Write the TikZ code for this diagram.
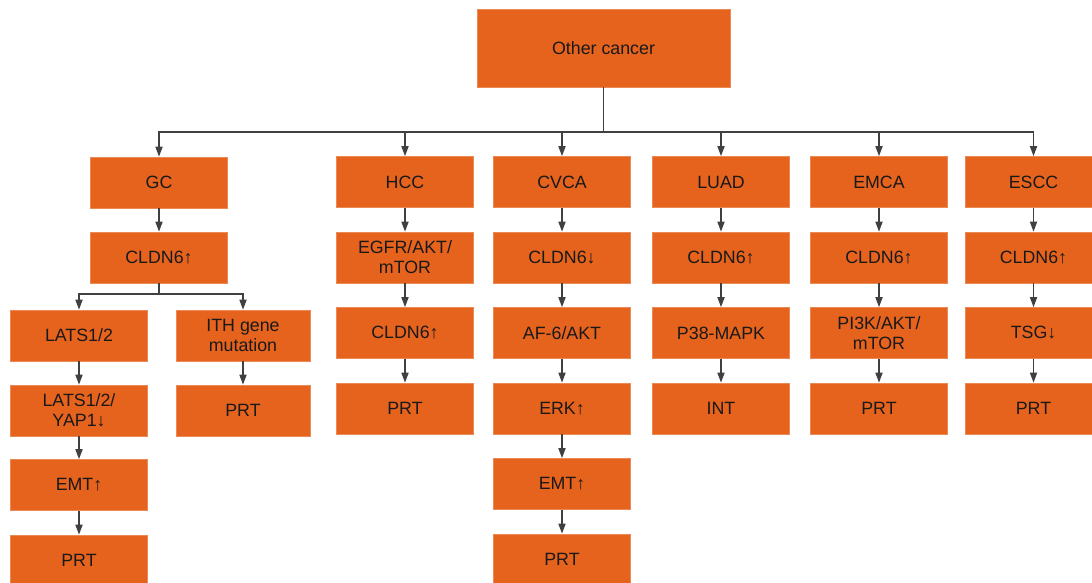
\documentclass[tikz,border=0pt]{standalone}
\usepackage{fontspec}
\setmainfont{Liberation Sans}
\usetikzlibrary{arrows.meta}
\definecolor{boxorange}{RGB}{230,99,30}
\begin{document}
\begin{tikzpicture}[x=1pt,y=-1pt,
    box/.style={draw=boxorange!75!white, line width=0.6pt, fill=boxorange,
      minimum width=137pt, minimum height=51pt, inner sep=1pt, align=center,
      font=\fontsize{17.8}{20}\selectfont, text=black!90},
    link/.style={draw=black!75, line width=1.6pt, -{Triangle[length=10pt,width=7pt]}}]
  \clip (0,0) rectangle (1092,582);
  \node[box, minimum width=253pt, minimum height=78pt] (other) at (603.5,48) {Other cancer};
  % GC
  \node[box] (gc) at (159,182.5) {GC};
  \node[box] (gcCldn) at (159,257.5) {CLDN6↑};
  \node[box] (lats) at (79,335.5) {LATS1/2};
  \node[box, minimum width=134pt] (ith) at (243,335.5) {ITH gene\\mutation};
  \node[box] (yap) at (79,410.5) {LATS1/2/\\YAP1↓};
  \node[box, minimum width=134pt] (ithPrt) at (243,410.5) {PRT};
  \node[box] (gcEmt) at (79,485) {EMT↑};
  \node[box] (gcPrt) at (79,560.5) {PRT};
  % HCC
  \node[box] (hcc) at (405,182) {HCC};
  \node[box] (egfr) at (405,257.5) {EGFR/AKT/\\mTOR};
  \node[box] (hccCldn) at (405,333) {CLDN6↑};
  \node[box] (hccPrt) at (405,408.5) {PRT};
  % CVCA
  \node[box] (cvca) at (562,182) {CVCA};
  \node[box] (cvcaCldn) at (562,257.5) {CLDN6↓};
  \node[box] (af) at (562,333) {AF-6/AKT};
  \node[box] (erk) at (562,408.5) {ERK↑};
  \node[box] (cvcaEmt) at (562,484) {EMT↑};
  \node[box] (cvcaPrt) at (562,559.5) {PRT};
  % LUAD
  \node[box] (luad) at (721,182) {LUAD};
  \node[box] (luadCldn) at (721,257.5) {CLDN6↑};
  \node[box] (p38) at (721,333) {P38-MAPK};
  \node[box] (luadInt) at (721,408.5) {INT};
  % EMCA
  \node[box] (emca) at (879,182) {EMCA};
  \node[box] (emcaCldn) at (879,257.5) {CLDN6↑};
  \node[box] (pi3k) at (879,333) {PI3K/AKT/\\mTOR};
  \node[box] (emcaPrt) at (879,408.5) {PRT};
  % ESCC
  \node[box] (escc) at (1033.5,182) {ESCC};
  \node[box] (esccCldn) at (1033.5,257.5) {CLDN6↑};
  \node[box] (tsg) at (1033.5,333) {TSG↓};
  \node[box] (esccPrt) at (1033.5,408.5) {PRT};

  \coordinate (bus) at (603.5,132);
  \coordinate (gcBus) at (159,294);
  \begin{scope}[link]
    \draw (other.south) -- (bus) -| (gc.north);
    \draw (other.south) -- (bus) -| (hcc.north);
    \draw (other.south) -- (bus) -| (cvca.north);
    \draw (other.south) -- (bus) -| (luad.north);
    \draw (other.south) -- (bus) -| (emca.north);
    \draw (other.south) -- (bus) -| (escc.north);
    \draw (gc) -- (gcCldn);
    \draw (gcCldn.south) -- (gcBus) -| (lats.north);
    \draw (gcCldn.south) -- (gcBus) -| (ith.north);
    \draw (lats) -- (yap);
    \draw (yap) -- (gcEmt);
    \draw (gcEmt) -- (gcPrt);
    \draw (ith) -- (ithPrt);
    \draw (hcc) -- (egfr);
    \draw (egfr) -- (hccCldn);
    \draw (hccCldn) -- (hccPrt);
    \draw (cvca) -- (cvcaCldn);
    \draw (cvcaCldn) -- (af);
    \draw (af) -- (erk);
    \draw (erk) -- (cvcaEmt);
    \draw (cvcaEmt) -- (cvcaPrt);
    \draw (luad) -- (luadCldn);
    \draw (luadCldn) -- (p38);
    \draw (p38) -- (luadInt);
    \draw (emca) -- (emcaCldn);
    \draw (emcaCldn) -- (pi3k);
    \draw (pi3k) -- (emcaPrt);
    \draw (escc) -- (esccCldn);
    \draw (esccCldn) -- (tsg);
    \draw (tsg) -- (esccPrt);
  \end{scope}
\end{tikzpicture}
\end{document}
